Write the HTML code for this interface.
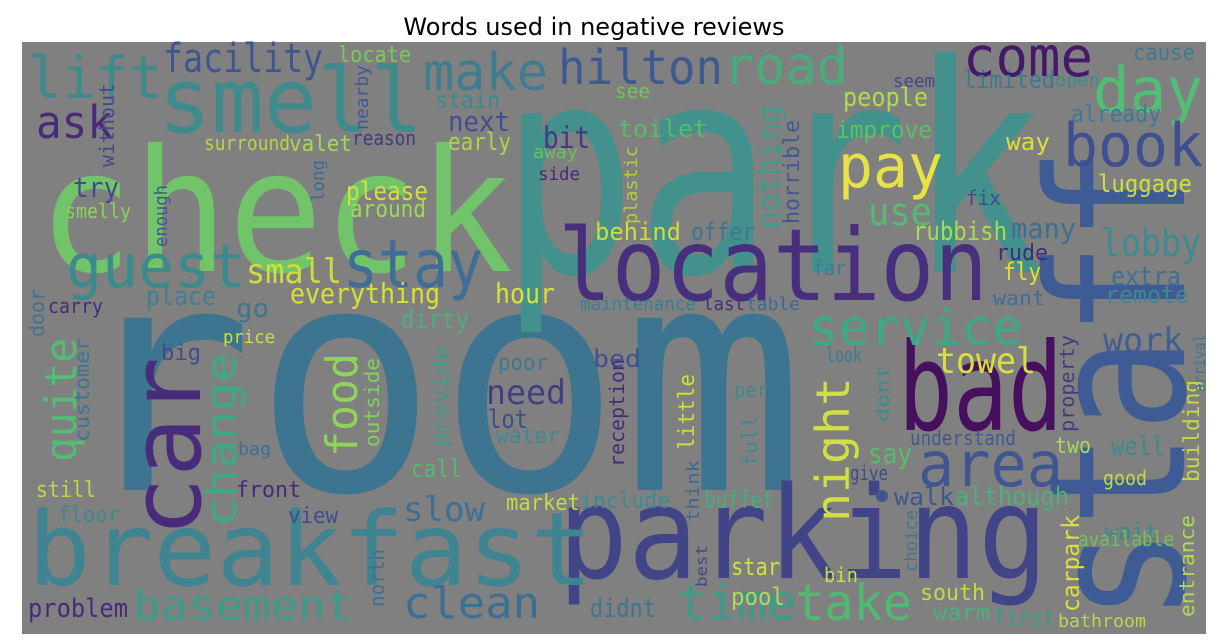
<!DOCTYPE html>
<html><head><meta charset="utf-8">
<style>
html,body{margin:0;padding:0;background:#fff;width:1224px;height:642px;overflow:hidden}
svg{display:block}
</style></head>
<body>
<svg id="wc" width="1224" height="642" viewBox="0 0 1224 642" xmlns="http://www.w3.org/2000/svg">
<text x="594" y="35" text-anchor="middle" font-family="DejaVu Sans, sans-serif" font-size="24" fill="#000">Words used in negative reviews</text>
<rect x="22" y="42" width="1184" height="592" fill="#808080"/>
<g id="words"></g>
<circle cx="882" cy="496" r="6" fill="#3f5690"/>
</svg>
<script>
// [word, left/start x, baseline y, font size, text length, color, rotated]
const words = [
["room",70,490,315,735,"#3d7490",0],
["park",500,272,290,545,"#42918c",0],
["check",38,271,170,475,"#72c46b",0],
["location",558,300,100,430,"#472f7d",0],
["parking",558,578,128,490,"#414487",0],
["breakfast",28,585,102,565,"#3e8491",0],
["staff",1184,622,190,475,"#3e5b96",1],
["bad",898,430,122,165,"#46105f",0],
["car",200,537,97,180,"#482b7b",1],
["smell",158,132,90,265,"#3f8b8c",0],
["guest",66,287,60,180,"#3c8a8c",0],
["stay",343,287,66,140,"#3f6d95",0],
["lift",28,98,58,135,"#3e8a8d",0],
["facility",163,72,40,160,"#3d5690",0],
["make",423,90,52,125,"#3f7c90",0],
["hilton",558,84,48,165,"#3e5892",0],
["road",723,84,52,125,"#48ac7e",0],
["come",963,76,55,130,"#45186a",0],
["day",1093,112,62,110,"#52bd74",0],
["book",1063,166,60,140,"#3f4f90",0],
["pay",838,187,60,105,"#e7e245",0],
["ask",36,138,45,77,"#472b7a",0],
["people",843,106,26,85,"#b0db4f",0],
["limited",963,88,24,92,"#3c7a92",0],
["seem",893,87,18,42,"#414a8b",0],
["cause",1133,60,22,62,"#3e7a8f",0],
["open",1055,86,18,45,"#3e8a8d",0],
["see",615,98,20,35,"#72c55c",0],
["locate",338,62,22,73,"#7ac85c",0],
["stain",435,108,23,65,"#3c8a8c",0],
["next",448,131,28,62,"#424d8d",0],
["bit",543,148,30,47,"#453a80",0],
["surround",204,150,20,86,"#b8d24c",0],
["valet",289,151,22,63,"#a6d858",0],
["reason",352,145,20,64,"#463882",0],
["early",448,150,24,63,"#aed34c",0],
["away",533,158,18,45,"#6bc060",0],
["side",538,180,18,42,"#482878",0],
["toilet",618,137,24,90,"#54bc6c",0],
["improve",836,138,24,96,"#5cc064",0],
["way",1006,150,24,44,"#d8e033",0],
["already",1071,122,24,90,"#3e7a92",0],
["luggage",1098,192,24,94,"#c8e040",0],
["fix",966,205,20,35,"#414a8b",0],
["use",868,225,38,64,"#54bb70",0],
["rubbish",913,240,26,94,"#a8dc50",0],
["many",1011,238,28,65,"#3e6e92",0],
["lobby",1101,256,38,100,"#3d8a90",0],
["extra",1111,285,26,70,"#3f7090",0],
["remote",1105,303,24,84,"#3c8a8c",0],
["rude",996,260,22,52,"#462a78",0],
["fly",1003,280,24,38,"#e0e030",0],
["far",813,275,20,33,"#3e7a92",0],
["want",993,305,20,52,"#3e6e92",0],
["behind",595,240,24,86,"#cddd3a",0],
["offer",691,240,24,64,"#3d7590",0],
["maintenance",580,310,18,116,"#3f7c90",0],
["last",703,310,18,42,"#472b7a",0],
["table",746,310,18,54,"#3d6a92",0],
["service",808,345,50,215,"#3caa82",0],
["work",1103,352,34,80,"#3e5e94",0],
["towel",936,373,36,100,"#d6e040",0],
["bed",593,367,24,48,"#415090",0],
["small",246,283,34,96,"#d0dc3a",0],
["everything",290,303,28,150,"#d8e037",0],
["hour",495,303,28,60,"#d8e040",0],
["place",146,305,26,70,"#3f8090",0],
["go",236,317,26,33,"#3e7590",0],
["try",73,197,28,46,"#414a8b",0],
["smelly",65,218,20,66,"#90d05a",0],
["please",346,200,26,82,"#d2df42",0],
["around",350,217,24,76,"#9ed85c",0],
["dirty",401,328,26,68,"#4daf7e",0],
["carry",48,313,20,55,"#472b7a",0],
["price",223,343,18,52,"#c8e040",0],
["big",161,360,22,40,"#414a8b",0],
["bag",238,455,18,33,"#3e6e92",0],
["still",36,497,22,60,"#b8d848",0],
["front",236,497,22,65,"#472b7a",0],
["floor",58,522,22,62,"#3d8a90",0],
["view",288,523,22,50,"#424a8c",0],
["need",486,404,34,80,"#433d84",0],
["poor",498,370,22,50,"#3d7a90",0],
["lot",488,428,26,40,"#424a8c",0],
["water",496,443,22,64,"#3d8a90",0],
["call",411,477,24,51,"#5ab870",0],
["slow",403,521,34,82,"#3e6e92",0],
["market",506,510,22,74,"#c0db48",0],
["include",580,508,22,90,"#3d8a90",0],
["basement",133,620,42,220,"#3e9b8a",0],
["problem",28,617,26,100,"#472b7a",0],
["clean",403,618,44,137,"#3e6e92",0],
["didnt",590,617,26,66,"#3e7590",0],
["time",678,620,50,118,"#3e9b8a",0],
["take",795,620,50,117,"#4fba72",0],
["south",920,600,22,65,"#c0db48",0],
["warm",933,620,22,57,"#4daf7e",0],
["first",993,625,22,62,"#3e9b8a",0],
["bathroom",1058,627,18,88,"#b8d84c",0],
["star",731,575,24,49,"#d0e040",0],
["pool",731,605,24,54,"#b0d860",0],
["bin",824,582,20,34,"#c8e040",0],
["walk",894,505,24,60,"#3f5690",0],
["although",955,505,26,114,"#4daf7e",0],
["understand",910,445,20,106,"#3f5a92",0],
["two",1055,453,22,36,"#a8d858",0],
["well",1111,455,26,54,"#3c8a8c",0],
["good",1103,485,20,44,"#c0da45",0],
["say",868,463,28,44,"#5cba6c",0],
["give",850,480,20,38,"#424a8c",0],
["wait",1105,540,24,53,"#3c8a8c",0],
["available",1078,546,20,96,"#72c058",0],
["per",734,397,20,34,"#3c8a8c",0],
["look",826,362,20,36,"#3d7a90",0],
["buffet",704,508,24,70,"#48ac7e",0],
["area",918,486,62,145,"#3f5690",0],
["night",849,522,46,145,"#d0e042",1],
["door",44,337,20,48,"#3f7090",1],
["without",114,167,20,84,"#414a8b",1],
["nearby",368,130,18,65,"#3e5892",1],
["enough",167,247,18,62,"#3e5892",1],
["long",324,202,18,42,"#3d6a92",1],
["nothing",780,229,32,124,"#3e9b8a",1],
["horrible",799,224,22,104,"#3f5a90",1],
["plastic",637,224,18,78,"#b0d040",1],
["quite",76,462,44,124,"#52bd74",1],
["customer",89,442,20,104,"#3d7590",1],
["change",236,527,44,174,"#3daa82",1],
["food",357,457,44,104,"#8fd45a",1],
["outside",379,447,20,89,"#7ed060",1],
["provide",448,447,22,101,"#3e9b8a",1],
["north",384,607,20,58,"#3e6e92",1],
["reception",624,467,20,108,"#472b7a",1],
["little",694,450,22,76,"#cddd3a",1],
["full",757,467,20,52,"#3d8a90",1],
["think",699,522,18,62,"#3d6a92",1],
["best",707,587,16,42,"#424a8c",1],
["dont",889,422,18,57,"#3c8a8c",1],
["property",1074,432,20,97,"#463a80",1],
["building",1199,482,22,102,"#c0da45",1],
["arrival",1205,392,16,58,"#3d7590",1],
["choice",917,572,18,62,"#3e7590",1],
["carpark",1079,612,24,97,"#d8e040",1],
["entrance",1194,617,20,102,"#b0d858",1]
];
const g = document.getElementById('words');
const NS = 'http://www.w3.org/2000/svg';
for (const w of words) {
  const t = document.createElementNS(NS, 'text');
  
  
  t.setAttribute('font-family', 'DejaVu Sans Mono, Liberation Mono, monospace');
  t.setAttribute('font-size', w[3]);
  t.setAttribute('fill', w[5]);
  t.setAttribute('textLength', w[4]);
  t.setAttribute('lengthAdjust', 'spacingAndGlyphs');
  if (w[6]) {
    t.setAttribute('x', 0); t.setAttribute('y', 0);
    t.setAttribute('transform', 'translate(' + w[1] + ',' + w[2] + ') rotate(-90)');
  } else {
    t.setAttribute('x', w[1]); t.setAttribute('y', w[2]);
  }
  t.textContent = w[0];
  g.appendChild(t);
}
</script>
</body></html>
